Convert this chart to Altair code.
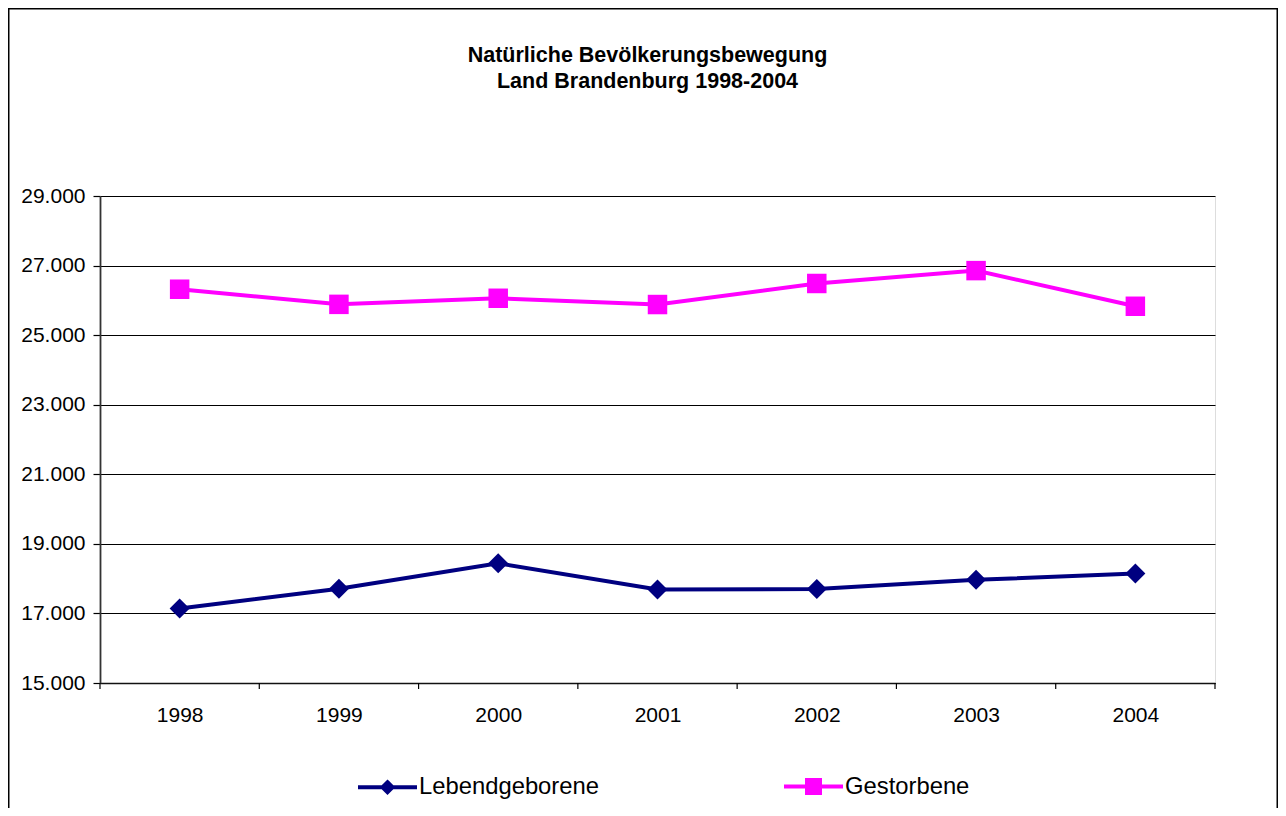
import altair as alt
import pandas as pd

# ---- data ----
years = [1998, 1999, 2000, 2001, 2002, 2003, 2004]
lebendgeborene = [17140, 17710, 18440, 17690, 17700, 17965, 18145]
gestorbene = [26320, 25885, 26060, 25880, 26485, 26855, 25830]
series_names = ["Lebendgeborene", "Gestorbene"]
series_colors = ["#000080", "#FF00FF"]
y_tick_values = [15000, 17000, 19000, 21000, 23000, 25000, 27000, 29000]
x_tick_bounds = [1997.5, 1998.5, 1999.5, 2000.5, 2001.5, 2002.5, 2003.5, 2004.5]
title_lines = ["Natürliche Bevölkerungsbewegung", "Land Brandenburg 1998-2004"]

df = pd.DataFrame({
    "Jahr": years + years,
    "Wert": lebendgeborene + gestorbene,
    "Reihe": [series_names[0]] * len(years) + [series_names[1]] * len(years),
})
ticks_df = pd.DataFrame({"Grenze": x_tick_bounds})

FONT = "Liberation Sans, Arial, Helvetica, sans-serif"
W, H = 1115, 487

x_scale = alt.Scale(domain=[1997.5, 2004.5], nice=False, zero=False)
y_scale = alt.Scale(domain=[15000, 29000], nice=False, zero=False)
color_scale = alt.Scale(domain=series_names, range=series_colors)

# legend symbols: line segment + marker (nested outlines so the marker looks filled)
legend_paths = [
    "M-1,0H1M0,-0.17L0.17,0L0,0.17L-0.17,0ZM0,-0.08L0.08,0L0,0.08L-0.08,0Z",
    "M-1,0H1M-0.22,-0.22H0.22V0.22H-0.22ZM-0.12,-0.12H0.12V0.12H-0.12ZM-0.03,-0.03H0.03V0.03H-0.03Z",
]
shape_scale = alt.Scale(domain=series_names, range=legend_paths)

legend_def = alt.Legend(
    title=None,
    orient="none",
    direction="horizontal",
    legendX=256,
    legendY=559,
    symbolSize=3481,
    symbolStrokeWidth=4,
    labelFontSize=23.8,
    labelFont=FONT,
    labelColor="black",
    labelOffset=0,
    labelLimit=400,
    columnPadding=177,
    padding=0,
)

x_enc = alt.X(
    "Jahr:Q",
    scale=x_scale,
    axis=alt.Axis(
        values=years,
        format="d",
        ticks=False,
        grid=False,
        title=None,
        labelPadding=21,
        labelFontSize=21,
        labelFont=FONT,
        labelColor="black",
        domainColor="#111",
        domainWidth=1.5,
    ),
)
y_enc = alt.Y(
    "Wert:Q",
    scale=y_scale,
    axis=alt.Axis(
        values=y_tick_values,
        labelExpr="replace(format(datum.value, ','), ',', '.')",
        title=None,
        grid=True,
        gridColor="black",
        gridWidth=1,
        tickSize=7,
        tickColor="black",
        tickWidth=1.2,
        labelPadding=8,
        labelFontSize=21,
        labelFont=FONT,
        labelColor="black",
        domainColor="#333",
        domainWidth=1.8,
    ),
)

base = alt.Chart(df)

border = alt.Chart(alt.Data(values=[{"k": 1}])).mark_rect(
    fillOpacity=0, stroke="black", strokeWidth=1.5
).encode(
    x=alt.value(-92 + 0.75),
    x2=alt.value(1270 - 92 - 0.75),
    y=alt.value(-188 + 0.75),
    y2=alt.value(H + 140),
)

x_ticks = alt.Chart(ticks_df).mark_rule(color="black", strokeWidth=1.2).encode(
    x=alt.X("Grenze:Q", scale=x_scale),
    y=alt.value(H),
    y2=alt.value(H + 6),
)

legend_layer = base.mark_point(filled=False, size=0, strokeWidth=4, opacity=1).encode(
    x=x_enc,
    y=y_enc,
    color=alt.Color("Reihe:N", scale=color_scale, legend=legend_def),
    shape=alt.Shape("Reihe:N", scale=shape_scale, legend=legend_def),
)

lines = base.mark_line(strokeWidth=4).encode(
    x=x_enc,
    y=y_enc,
    color=alt.Color("Reihe:N", scale=color_scale, legend=None),
)

pts_lebend = base.transform_filter(alt.datum.Reihe == series_names[0]).mark_point(
    filled=True, shape="diamond", size=400, opacity=1
).encode(
    x=x_enc,
    y=y_enc,
    color=alt.Color("Reihe:N", scale=color_scale, legend=None),
)

pts_gest = base.transform_filter(alt.datum.Reihe == series_names[1]).mark_point(
    filled=True, shape="square", size=380, opacity=1
).encode(
    x=x_enc,
    y=y_enc,
    color=alt.Color("Reihe:N", scale=color_scale, legend=None),
)

chart = alt.layer(border, x_ticks, legend_layer, lines, pts_lebend, pts_gest).properties(
    width=W,
    height=H,
    autosize=alt.AutoSizeParams(type="none"),
    padding={"left": 92, "top": 188, "right": 63, "bottom": 125},
    title=alt.TitleParams(
        text=title_lines,
        fontSize=21.5,
        fontWeight="bold",
        font=FONT,
        color="black",
        anchor="middle",
        frame="group",
        lineHeight=26,
        offset=0,
        dy=84,
        dx=-10,
    ),
).configure_view(
    stroke="#808080", strokeWidth=2
).configure(background="white")

chart.save("out.html", embed_options={"renderer": "svg", "actions": False})
